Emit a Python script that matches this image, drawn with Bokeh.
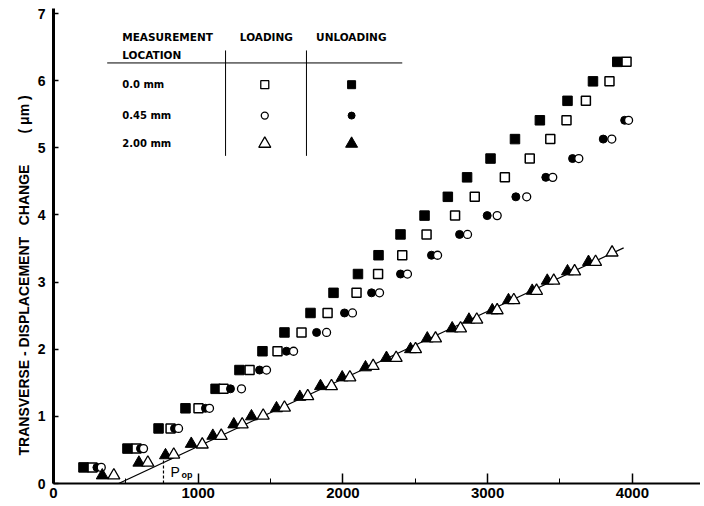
from bokeh.plotting import figure
from bokeh.models import Range1d, SingleIntervalTicker
from bokeh.core.properties import value
from bokeh.embed import file_html
from bokeh.resources import INLINE

# ---------------- data ----------------
# 0.0 mm and 0.45 mm series share the same displacement levels
row_y = [0.24, 0.52, 0.82, 1.12, 1.41, 1.69, 1.97, 2.25, 2.54, 2.84, 3.12,
         3.40, 3.71, 3.99, 4.27, 4.56, 4.84, 5.13, 5.41, 5.70, 5.99, 6.28]
sq_unload_x = [207, 511, 726, 912, 1120, 1285, 1444, 1596, 1776, 1935, 2104,
               2246, 2398, 2564, 2725, 2858, 3020, 3189, 3361, 3552, 3728, 3896]
sq_load_x = [270, 574, 809, 1002, 1175, 1355, 1548, 1714, 1894, 2094, 2243,
             2410, 2578, 2775, 2911, 3119, 3291, 3433, 3545, 3679, 3842, 3960]
circ_y = row_y[:19]
circ_unload_x = [300, 601, 836, 1050, 1223, 1424, 1610, 1818, 2011, 2198, 2398,
                 2612, 2806, 2997, 3195, 3402, 3587, 3799, 3947]
circ_load_x = [330, 622, 864, 1078, 1299, 1472, 1659, 1887, 2066, 2253, 2446,
               2654, 2861, 3066, 3270, 3450, 3630, 3858, 3974]

# 2.00 mm
tri_unload_x = [337, 590, 774, 952, 1101, 1246, 1368, 1541, 1702, 1845, 1995, 2156,
                2301, 2467, 2583, 2755, 2871, 3032, 3144, 3308, 3412, 3552, 3697]
tri_unload_y = [0.12, 0.31, 0.42, 0.59, 0.71, 0.88, 1.00, 1.12, 1.29, 1.45, 1.58, 1.73,
                1.87, 2.00, 2.16, 2.31, 2.44, 2.58, 2.73, 2.87, 3.02, 3.16, 3.30]
tri_load_x = [417, 652, 831, 1028, 1159, 1304, 1449, 1596, 1757, 1921, 2048, 2209,
              2368, 2502, 2640, 2813, 2925, 3066, 3181, 3338, 3457, 3601, 3746, 3860]
tri_load_y = [0.12, 0.31, 0.43, 0.58, 0.71, 0.88, 1.01, 1.13, 1.30, 1.45, 1.58, 1.75,
              1.87, 2.00, 2.16, 2.31, 2.44, 2.58, 2.73, 2.87, 3.02, 3.16, 3.30, 3.44]

# fitted line through the 2.00 mm data
fit_x = [450, 3940]
fit_y = [0.0, 3.51]

# opening load marker
pop_x = 760
pop_top = 0.38

legend_rows = ["0.0 mm", "0.45 mm", "2.00 mm"]
x_ticks_interval = 1000
y_ticks_interval = 1
NB = "\u00a0"
y_title = ("TRANSVERSE - DISPLACEMENT" + NB * 3 + "CHANGE" + NB * 8 + "(" + NB + "\u03bcm" + NB + ")")

# ---------------- figure ----------------
p = figure(width=700, height=500, output_backend="svg", toolbar_location=None,
           x_range=Range1d(0, 4471), y_range=Range1d(0, 7.075),
           min_border_left=53, min_border_right=0, min_border_top=8,
           min_border_bottom=0, background_fill_color="white",
           border_fill_color="white", title_location="left")
p.outline_line_color = None
p.xgrid.grid_line_color = None
p.ygrid.grid_line_color = None

p.title.text = y_title
p.title.align = "left"
p.title.offset = 28
p.title.standoff = 6
p.title.text_font = "Liberation Sans"
p.title.text_font_style = "bold"
p.title.text_font_size = "14px"
p.title.text_color = "black"

xa = p.xaxis[0]
xa.ticker = SingleIntervalTicker(interval=x_ticks_interval, num_minor_ticks=2)
xa.axis_line_width = 2
xa.major_tick_in = 10
xa.major_tick_out = 0
xa.minor_tick_in = 5
xa.minor_tick_out = 0
xa.major_tick_line_width = 1.5
xa.major_label_standoff = 4
xa.major_label_text_font = "Liberation Sans"
xa.major_label_text_font_style = "bold"
xa.major_label_text_font_size = "15px"
xa.major_label_text_color = "black"

ya = p.yaxis[0]
ya.ticker = SingleIntervalTicker(interval=y_ticks_interval, num_minor_ticks=0)
ya.axis_line_width = 3
ya.major_tick_in = 5
ya.major_tick_out = 0
ya.minor_tick_line_color = None
ya.major_tick_line_width = 1.5
ya.major_label_standoff = 8
ya.major_label_text_font = "Liberation Sans"
ya.major_label_text_font_style = "bold"
ya.major_label_text_font_size = "14px"
ya.major_label_text_color = "black"

# fit line and P_op marker
p.line(fit_x, fit_y, line_color="black", line_width=1.2)
p.segment(x0=[pop_x], y0=[0], x1=[pop_x], y1=[pop_top], line_color="black",
          line_width=1.2, line_dash="3 2")

# data markers (filled first, open on top)
p.scatter(sq_unload_x, row_y, marker="square", size=9.5, fill_color="black", line_color="black")
p.scatter(sq_load_x, row_y, marker="square", size=9, fill_color="white", line_color="black", line_width=1.5)
p.scatter(circ_unload_x, circ_y, marker="circle", size=8, fill_color="black", line_color="black")
p.scatter(circ_load_x, circ_y, marker="circle", size=8, fill_color="white", line_color="black", line_width=1.3)
p.scatter(tri_unload_x, tri_unload_y, marker="triangle", size=12, fill_color="black", line_color="black")
p.scatter(tri_load_x, tri_load_y, marker="triangle", size=12, fill_color="white", line_color="black", line_width=1.3)

# P_op text
p.text(x=[808], y=[0.17], text=["P"], text_font=value("Liberation Sans"),
       text_font_size="14px", text_baseline="alphabetic", text_align="left")
p.text(x=[885], y=[0.12], text=["op"], text_font=value("Liberation Sans"),
       text_font_style="bold", text_font_size="9px", text_baseline="alphabetic", text_align="left")

# ---------------- legend table ----------------
hdr_font = value("DejaVu Sans")
p.text(x=[475, 475], y=[6.646, 6.384], text=["MEASUREMENT", "LOCATION"],
       text_font=hdr_font, text_font_style="bold", text_font_size="10.5px",
       text_baseline="middle", text_align="left")
p.text(x=[1471, 2058], y=[6.646, 6.646], text=["LOADING", "UNLOADING"],
       text_font=hdr_font, text_font_style="bold", text_font_size="10.5px",
       text_baseline="middle", text_align="center")
row_pos = [5.94, 5.48, 5.06]
p.text(x=[475] * 3, y=row_pos, text=legend_rows, text_font=hdr_font,
       text_font_style="bold", text_font_size="10px", text_baseline="middle", text_align="left")
p.segment(x0=[371], y0=[6.264], x1=[2410], y1=[6.264], line_color="black", line_width=1)
p.segment(x0=[1189, 1748], y0=[4.88, 4.88], x1=[1189, 1748], y1=[6.45, 6.45],
          line_color="black", line_width=1)
p.scatter([1460], [row_pos[0]], marker="square", size=8, fill_color="white", line_color="black", line_width=1.3)
p.scatter([2060], [row_pos[0]], marker="square", size=8, fill_color="black", line_color="black")
p.scatter([1460], [row_pos[1]], marker="circle", size=7, fill_color="white", line_color="black", line_width=1.3)
p.scatter([2060], [row_pos[1]], marker="circle", size=7, fill_color="black", line_color="black")
p.scatter([1460], [row_pos[2]], marker="triangle", size=12, fill_color="white", line_color="black", line_width=1.3)
p.scatter([2060], [row_pos[2]], marker="triangle", size=12, fill_color="black", line_color="black")

open("out.html", "w").write(file_html(p, INLINE))
